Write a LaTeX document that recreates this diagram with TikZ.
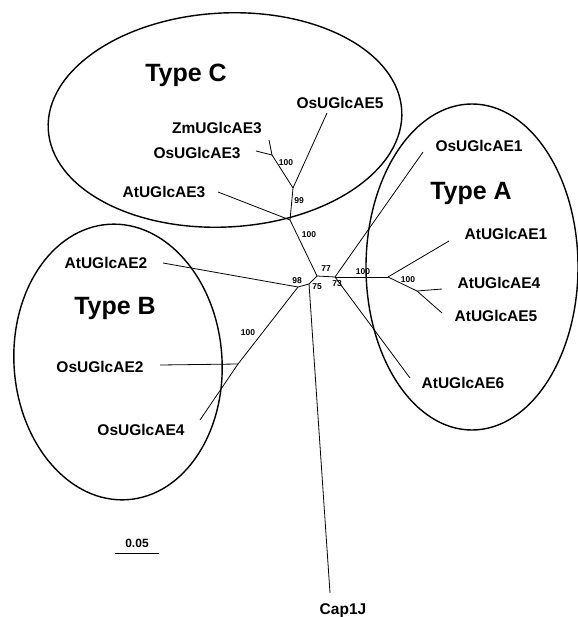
\documentclass[tikz,border=0pt]{standalone}
\usepackage{fontspec}
\setmainfont{Liberation Sans}
\usepackage{tikz}
\usetikzlibrary{positioning, calc}

\begin{document}
\begin{tikzpicture}[
    x=1pt, y=-1pt,
    leaf/.style={font=\fontsize{15.5}{16}\selectfont\bfseries, inner sep=0pt},
    clade/.style={font=\fontsize{25}{26}\selectfont\bfseries, inner sep=0pt},
    boot/.style={font=\fontsize{8.5}{9}\selectfont\bfseries, inner sep=0pt},
    branch/.style={line width=0.8pt},
    group/.style={line width=1.4pt}
]
    \useasboundingbox (0,0) rectangle (577,617);

    % groups
    \draw [group, rotate around={3:(225,120)}] (225,120) ellipse [x radius=177, y radius=107];
    \draw [group] (472,267) ellipse [x radius=106, y radius=163];
    \draw [group, rotate around={4:(118,362)}] (118,362) ellipse [x radius=104, y radius=138];

    \node (typeC) [clade] at (186,75) {Type C};
    \node (typeA) [clade] at (471,193) {Type A};
    \node (typeB) [clade] at (115,308) {Type B};

    % inner nodes of the tree
    \coordinate (n77) at (317,276);
    \coordinate (n75) at (309,284);
    \coordinate (n98) at (298,287);
    \coordinate (n73) at (335,277);
    \coordinate (nC1) at (290,220);
    \coordinate (nC2) at (293,188);
    \coordinate (nC3) at (272,155);
    \coordinate (nA1) at (388,277);
    \coordinate (nA2) at (417,291);
    \coordinate (nB1) at (238,364);

    % tips
    \coordinate (tOs5) at (327,113);
    \coordinate (tZm3) at (269,140);
    \coordinate (tOs3) at (256,151);
    \coordinate (tAt3) at (218,192);
    \coordinate (tOs1) at (423,152);
    \coordinate (tAt1) at (449,241);
    \coordinate (tAt4) at (442,289);
    \coordinate (tAt5) at (442,313);
    \coordinate (tAt6) at (410,378);
    \coordinate (tAt2) at (163,263);
    \coordinate (tOs2) at (160,365);
    \coordinate (tOs4) at (200,420);
    \coordinate (tCap) at (330,593);

    \node (os5) [leaf] at (340,103) {OsUGlcAE5};
    \node (zm3) [leaf] at (217,128) {ZmUGlcAE3};
    \node (os3) [leaf] at (197,153) {OsUGlcAE3};
    \node (at3) [leaf] at (164,192) {AtUGlcAE3};
    \node (os1) [leaf] at (479,146) {OsUGlcAE1};
    \node (at1) [leaf] at (506,234) {AtUGlcAE1};
    \node (at4) [leaf] at (499,283) {AtUGlcAE4};
    \node (at5) [leaf] at (496,316) {AtUGlcAE5};
    \node (at6) [leaf] at (463,383) {AtUGlcAE6};
    \node (at2) [leaf] at (106,263) {AtUGlcAE2};
    \node (os2) [leaf] at (100,367) {OsUGlcAE2};
    \node (os4) [leaf] at (141,430) {OsUGlcAE4};
    \node (cap) [leaf] at (343,611) {Cap1J};

    % branches
    \draw [branch] (n77) -- (n75);
    \draw [branch] (n75) -- (n98);
    \draw [branch] (n75) -- (tCap);
    \draw [branch] (n77) -- (n73);
    \draw [branch] (n77) -- (nC1);
    \draw [branch] (nC1) -- (tAt3);
    \draw [branch] (nC1) -- (nC2);
    \draw [branch] (nC2) -- (tOs5);
    \draw [branch] (nC2) -- (nC3);
    \draw [branch] (nC3) -- (tZm3);
    \draw [branch] (nC3) -- (tOs3);
    \draw [branch] (n73) -- (tOs1);
    \draw [branch] (n73) -- (tAt6);
    \draw [branch] (n73) -- (nA1);
    \draw [branch] (nA1) -- (tAt1);
    \draw [branch] (nA1) -- (nA2);
    \draw [branch] (nA2) -- (tAt4);
    \draw [branch] (nA2) -- (tAt5);
    \draw [branch] (n98) -- (tAt2);
    \draw [branch] (n98) -- (nB1);
    \draw [branch] (nB1) -- (tOs2);
    \draw [branch] (nB1) -- (tOs4);

    % bootstrap values
    \node (bC3) [boot] at (286,163) {100};
    \node (bC2) [boot] at (299,201) {99};
    \node (bC1) [boot] at (309,235) {100};
    \node (b77) [boot] at (326,269) {77};
    \node (b98) [boot] at (297,281) {98};
    \node (b75) [boot] at (317,287) {75};
    \node (b73) [boot] at (337,284) {73};
    \node (bA1) [boot] at (363,272) {100};
    \node (bA2) [boot] at (408,280) {100};
    \node (bB1) [boot] at (248,333) {100};

    % scale bar
    \node (scale) [leaf, font=\fontsize{12}{13}\selectfont\bfseries] at (137,543) {0.05};
    \coordinate (sbL) at (115,553);
    \coordinate (sbR) at (159,553);
    \draw [line width=1pt] (sbL) -- (sbR);
\end{tikzpicture}
\end{document}
